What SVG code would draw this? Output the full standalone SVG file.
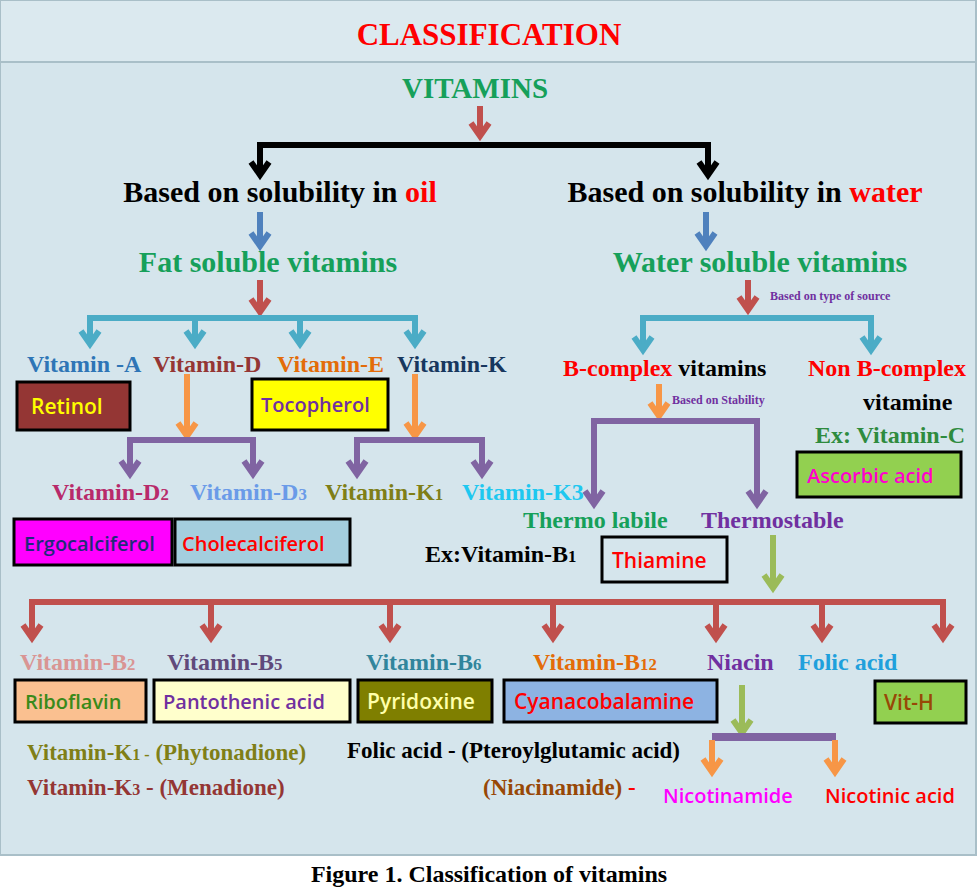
<svg xmlns="http://www.w3.org/2000/svg" width="978" height="888" viewBox="0 0 978 888">
<defs>
<style>
.s{font-family:"Liberation Serif",serif;font-weight:bold}
.c{font-family:"Open Sans","Liberation Sans",sans-serif;font-weight:600}
.bx{stroke:#000;stroke-width:3}
.ln{fill:none;stroke-width:6}
.sub{font-size:70%}
</style>
<marker id="ar" markerUnits="userSpaceOnUse" markerWidth="30" markerHeight="30" viewBox="-15 -15 30 30" refX="0" refY="0" orient="auto-start-reverse"><path d="M-13,-9 L0,0 L-13,9" fill="none" stroke="#c0504d" stroke-width="6"/></marker>
<marker id="ab" markerUnits="userSpaceOnUse" markerWidth="30" markerHeight="30" viewBox="-15 -15 30 30" refX="0" refY="0" orient="auto-start-reverse"><path d="M-13,-9 L0,0 L-13,9" fill="none" stroke="#4bacc6" stroke-width="6"/></marker>
<marker id="ab2" markerUnits="userSpaceOnUse" markerWidth="30" markerHeight="30" viewBox="-15 -15 30 30" refX="0" refY="0" orient="auto-start-reverse"><path d="M-13,-9 L0,0 L-13,9" fill="none" stroke="#4f81bd" stroke-width="6"/></marker>
<marker id="ak" markerUnits="userSpaceOnUse" markerWidth="30" markerHeight="30" viewBox="-15 -15 30 30" refX="0" refY="0" orient="auto-start-reverse"><path d="M-13,-9 L0,0 L-13,9" fill="none" stroke="#000" stroke-width="6"/></marker>
<marker id="ao" markerUnits="userSpaceOnUse" markerWidth="30" markerHeight="30" viewBox="-15 -15 30 30" refX="0" refY="0" orient="auto-start-reverse"><path d="M-13,-9 L0,0 L-13,9" fill="none" stroke="#f79646" stroke-width="6"/></marker>
<marker id="ap" markerUnits="userSpaceOnUse" markerWidth="30" markerHeight="30" viewBox="-15 -15 30 30" refX="0" refY="0" orient="auto-start-reverse"><path d="M-13,-9 L0,0 L-13,9" fill="none" stroke="#8064a2" stroke-width="6"/></marker>
<marker id="ag" markerUnits="userSpaceOnUse" markerWidth="30" markerHeight="30" viewBox="-15 -15 30 30" refX="0" refY="0" orient="auto-start-reverse"><path d="M-13,-9 L0,0 L-13,9" fill="none" stroke="#9bbb59" stroke-width="6"/></marker>
</defs>
<rect width="978" height="888" fill="#fff"/>
<rect x="0" y="0" width="976" height="855" fill="#d5e5ec" stroke="#a9bfc8" stroke-width="2"/>
<rect x="0" y="0" width="976" height="62" fill="#dbe9ef" stroke="#a9bfc8" stroke-width="2"/>
<text class="s" x="489" y="45" font-size="31" fill="#ff0000" text-anchor="middle">CLASSIFICATION</text>

<g id="connectors">
<path class="ln" stroke="#c0504d" d="M480,106 V136" marker-end="url(#ar)"/>
<path class="ln" stroke="#000" d="M260,175 V145 H708 V175" marker-start="url(#ak)" marker-end="url(#ak)"/>
<path class="ln" stroke="#4f81bd" d="M260,212 V246" marker-end="url(#ab2)"/>
<path class="ln" stroke="#4f81bd" d="M706,212 V246" marker-end="url(#ab2)"/>
<path class="ln" stroke="#c0504d" d="M260,280 V312" marker-end="url(#ar)"/>
<path class="ln" stroke="#4bacc6" d="M90,344 V318 H415 V344" marker-start="url(#ab)" marker-end="url(#ab)"/>
<path class="ln" stroke="#4bacc6" d="M195,320 V344" marker-end="url(#ab)"/>
<path class="ln" stroke="#4bacc6" d="M300,320 V344" marker-end="url(#ab)"/>
<path class="ln" stroke="#f79646" d="M187,374 V436" marker-end="url(#ao)"/>
<path class="ln" stroke="#f79646" d="M415,374 V436" marker-end="url(#ao)"/>
<path class="ln" stroke="#8064a2" d="M130,474 V440 H253 V474" marker-start="url(#ap)" marker-end="url(#ap)"/>
<path class="ln" stroke="#8064a2" d="M357,474 V440 H482 V474" marker-start="url(#ap)" marker-end="url(#ap)"/>
<path class="ln" stroke="#c0504d" d="M748,280 V310" marker-end="url(#ar)"/>
<path class="ln" stroke="#4bacc6" d="M643,350 V318 H871 V350" marker-start="url(#ab)" marker-end="url(#ab)"/>
<path class="ln" stroke="#f79646" d="M659,384 V416" marker-end="url(#ao)"/>
<path class="ln" stroke="#8064a2" d="M594,504 V421 H757 V504" marker-start="url(#ap)" marker-end="url(#ap)"/>
<path class="ln" stroke="#9bbb59" d="M773,535 V588" marker-end="url(#ag)"/>
<path class="ln" stroke="#c0504d" d="M32,638 V602 H943 V638" marker-start="url(#ar)" marker-end="url(#ar)"/>
<path class="ln" stroke="#c0504d" d="M211,604 V638" marker-end="url(#ar)"/>
<path class="ln" stroke="#c0504d" d="M390,604 V638" marker-end="url(#ar)"/>
<path class="ln" stroke="#c0504d" d="M553,604 V638" marker-end="url(#ar)"/>
<path class="ln" stroke="#c0504d" d="M716,604 V638" marker-end="url(#ar)"/>
<path class="ln" stroke="#c0504d" d="M822,604 V638" marker-end="url(#ar)"/>
<path class="ln" stroke="#9bbb59" d="M742,685 V733" marker-end="url(#ag)"/>
<path fill="none" stroke="#8064a2" stroke-width="8" d="M712,737 H836"/>
<path class="ln" stroke="#f79646" d="M712,740 V772" marker-end="url(#ao)"/>
<path class="ln" stroke="#f79646" d="M835,740 V772" marker-end="url(#ao)"/>
</g>

<g id="vitamins"><text class="s" x="475" y="98" font-size="29" fill="#16a05a" text-anchor="middle">VITAMINS</text></g>
<g id="oil"><text class="s" x="280" y="202" font-size="30" fill="#000" text-anchor="middle">Based on solubility in <tspan fill="#ff0000">oil</tspan></text></g>
<g id="water"><text class="s" x="745" y="202" font-size="30" fill="#000" text-anchor="middle">Based on solubility in <tspan fill="#ff0000">water</tspan></text></g>
<g id="fat"><text class="s" x="268" y="272" font-size="30" fill="#16a05a" text-anchor="middle">Fat soluble vitamins</text></g>
<g id="wsv"><text class="s" x="760" y="272" font-size="30" fill="#16a05a" text-anchor="middle">Water soluble vitamins</text></g>

<g id="vita"><text class="s" x="27" y="372" font-size="24" fill="#2e75b6">Vitamin -A</text>
<rect class="bx" x="17" y="382" width="113" height="48" fill="#943634"/><text class="c" x="31" y="414" font-size="21" fill="#ffff00">Retinol</text></g>
<g id="vitd"><text class="s" x="153" y="372" font-size="24" fill="#943634">Vitamin-D</text></g>
<g id="vite"><text class="s" x="277" y="372" font-size="24" fill="#e36c09">Vitamin-E</text>
<rect class="bx" x="252" y="379" width="136" height="51" fill="#ffff00"/><text class="c" x="261" y="412" font-size="20" fill="#7030a0">Tocopherol</text></g>
<g id="vitk"><text class="s" x="397" y="372" font-size="24" fill="#17375e">Vitamin-K</text></g>
<g id="d2"><text class="s" x="52" y="500" font-size="24" fill="#b82a6a">Vitamin-D<tspan class="sub">2</tspan></text>
<rect class="bx" x="14" y="519" width="158" height="46" fill="#ff00ff"/><text class="c" x="24" y="551" font-size="20" fill="#1f2a7a">Ergocalciferol</text></g>
<g id="d3"><text class="s" x="190" y="500" font-size="24" fill="#6a9be8">Vitamin-D<tspan class="sub">3</tspan></text>
<rect class="bx" x="175" y="519" width="175" height="46" fill="#a4cede"/><text class="c" x="182" y="551" font-size="20" fill="#ff0000">Cholecalciferol</text></g>
<g id="k1"><text class="s" x="325" y="500" font-size="24" fill="#7f7f17">Vitamin-K<tspan class="sub">1</tspan></text></g>
<g id="k3"><text class="s" x="462" y="500" font-size="24" fill="#1ec8f0">Vitamin-K3</text></g>

<g id="bcomplex"><text class="s" x="563" y="376" font-size="24" fill="#ff0000">B-complex <tspan fill="#000">vitamins</tspan></text>
<text class="s" x="672" y="404" font-size="12" fill="#7030a0">Based on Stability</text></g>
<g id="source"><text class="s" x="770" y="300" font-size="12" fill="#7030a0">Based on type of source</text></g>
<g id="nonb"><text class="s" x="808" y="376" font-size="24" fill="#ff0000">Non B-complex</text>
<text class="s" x="863" y="410" font-size="24" fill="#000">vitamine</text>
<text class="s" x="815" y="443" font-size="24" fill="#2e8b3e">Ex: Vitamin-C</text>
<rect class="bx" x="797" y="452" width="164" height="45" fill="#92d050"/><text class="c" x="807" y="483" font-size="20" fill="#ff00cc">Ascorbic acid</text></g>
<g id="labile"><text class="s" x="523" y="528" font-size="24" fill="#16a05a">Thermo labile</text>
<text class="s" x="425" y="562" font-size="24" fill="#000">Ex:Vitamin-B<tspan class="sub">1</tspan></text>
<rect class="bx" x="602" y="537" width="125" height="45" fill="none"/><text class="c" x="612" y="568" font-size="21" fill="#ff0000">Thiamine</text></g>
<g id="stable"><text class="s" x="701" y="528" font-size="24" fill="#7030a0">Thermostable</text></g>

<g id="b2"><text class="s" x="20" y="670" font-size="24" fill="#d99594">Vitamin-B<tspan class="sub">2</tspan></text>
<rect class="bx" x="15" y="680" width="131" height="42" fill="#fac090"/><text class="c" x="25" y="709" font-size="20" fill="#3a8a1a">Riboflavin</text></g>
<g id="b5"><text class="s" x="167" y="670" font-size="24" fill="#604a7b">Vitamin-B<tspan class="sub">5</tspan></text>
<rect class="bx" x="154" y="680" width="196" height="42" fill="#ffffcc"/><text class="c" x="163" y="709" font-size="20" fill="#7030a0">Pantothenic acid</text></g>
<g id="b6"><text class="s" x="366" y="670" font-size="24" fill="#31859c">Vitamin-B<tspan class="sub">6</tspan></text>
<rect class="bx" x="358" y="680" width="134" height="42" fill="#7f7f00"/><text class="c" x="367" y="709" font-size="21" fill="#ffffaa">Pyridoxine</text></g>
<g id="b12"><text class="s" x="533" y="670" font-size="24" fill="#e36c09">Vitamin-B<tspan class="sub">12</tspan></text>
<rect class="bx" x="504" y="680" width="213" height="42" fill="#8db3e2"/><text class="c" x="514" y="709" font-size="21" fill="#ff0000">Cyanacobalamine</text></g>
<g id="niacin"><text class="s" x="707" y="670" font-size="24" fill="#7030a0">Niacin</text></g>
<g id="folic"><text class="s" x="798" y="670" font-size="24" fill="#1fa0dc">Folic acid</text></g>
<g id="vith"><rect class="bx" x="875" y="681" width="91" height="42" fill="#92d050"/><text class="c" x="884" y="710" font-size="21" fill="#984806">Vit-H</text></g>

<g id="notes">
<text class="s" x="27" y="760" font-size="23" fill="#7f7f17">Vitamin-K<tspan class="sub">1 -</tspan> (Phytonadione)</text>
<text class="s" x="27" y="795" font-size="23" fill="#943634">Vitamin-K<tspan class="sub">3</tspan> - (Menadione)</text>
<text class="s" x="347" y="758" font-size="23" fill="#000">Folic acid - (Pteroylglutamic acid)</text>
<text class="s" x="483" y="795" font-size="23" fill="#984806">(Niacinamide)  <tspan fill="#ff0000">-</tspan></text>
<text class="c" x="663" y="803" font-size="20" fill="#ff00ff">Nicotinamide</text>
<text class="c" x="825" y="803" font-size="20" fill="#ff0000">Nicotinic acid</text>
</g>
<text class="s" x="489" y="882" font-size="24" fill="#000" text-anchor="middle">Figure 1. Classification of vitamins</text>
</svg>
